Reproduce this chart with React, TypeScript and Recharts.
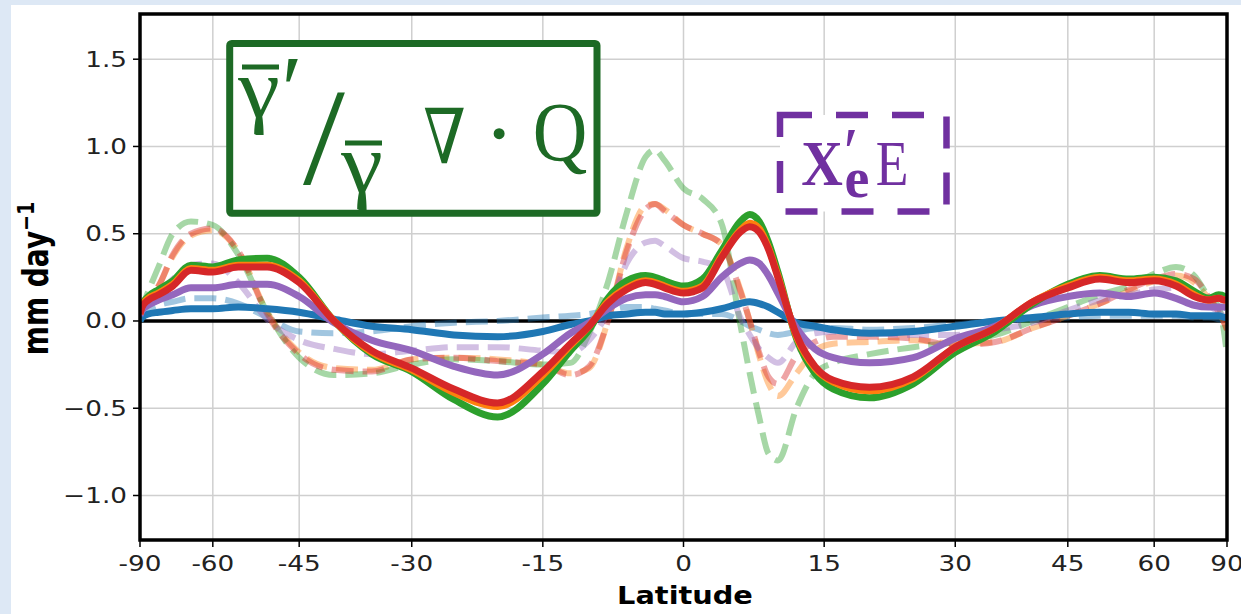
import React from "react";
import { LineChart, Line, XAxis, YAxis, CartesianGrid, ReferenceLine } from "recharts";

// Canvas and plot frame (pixels)
const W = 1241;
const H = 614;
const PLOT = { left: 140, top: 14, right: 1227, bottom: 540 };

// Latitude sample points (degrees)
const LAT = [-90, -85, -80, -75, -70, -65, -60, -55, -50, -45, -40, -35, -30, -25, -20, -15, -12, -10, -8, -6, -4, -3, -2, 0, 2, 4, 6, 7, 8, 9, 10, 12, 14, 16, 20, 25, 30, 35, 40, 45, 50, 55, 60, 65, 70, 75, 80, 85, 90];

// Solid series (mm day^-1)
const SOLID_BLUE = [0.00, 0.02, 0.04, 0.05, 0.06, 0.07, 0.07, 0.08, 0.07, 0.05, 0.01, -0.03, -0.05, -0.08, -0.09, -0.06, -0.02, 0.00, 0.03, 0.04, 0.05, 0.05, 0.04, 0.04, 0.05, 0.07, 0.10, 0.11, 0.10, 0.08, 0.05, -0.01, -0.03, -0.05, -0.07, -0.06, -0.03, 0.00, 0.02, 0.04, 0.05, 0.05, 0.04, 0.04, 0.03, 0.03, 0.03, 0.02, 0.02];
const SOLID_ORANGE = [0.04, 0.09, 0.13, 0.16, 0.21, 0.30, 0.29, 0.32, 0.32, 0.23, 0.00, -0.18, -0.28, -0.41, -0.49, -0.31, -0.14, -0.03, 0.11, 0.19, 0.23, 0.22, 0.20, 0.17, 0.20, 0.37, 0.52, 0.56, 0.53, 0.42, 0.26, -0.09, -0.27, -0.35, -0.40, -0.33, -0.15, -0.04, 0.11, 0.20, 0.25, 0.23, 0.24, 0.21, 0.15, 0.12, 0.13, 0.12, 0.12];
const SOLID_GREEN = [0.05, 0.09, 0.14, 0.18, 0.23, 0.32, 0.31, 0.35, 0.36, 0.25, 0.00, -0.19, -0.29, -0.45, -0.55, -0.36, -0.17, -0.05, 0.13, 0.23, 0.26, 0.25, 0.23, 0.20, 0.24, 0.40, 0.57, 0.61, 0.57, 0.45, 0.28, -0.10, -0.30, -0.39, -0.44, -0.36, -0.18, -0.06, 0.10, 0.21, 0.26, 0.24, 0.25, 0.23, 0.17, 0.13, 0.15, 0.14, 0.13];
const SOLID_RED = [0.04, 0.08, 0.12, 0.15, 0.20, 0.29, 0.28, 0.31, 0.31, 0.22, 0.00, -0.17, -0.27, -0.39, -0.47, -0.29, -0.13, -0.03, 0.10, 0.18, 0.22, 0.21, 0.19, 0.16, 0.19, 0.36, 0.51, 0.54, 0.51, 0.41, 0.25, -0.08, -0.26, -0.34, -0.38, -0.32, -0.15, -0.04, 0.11, 0.19, 0.24, 0.22, 0.23, 0.20, 0.14, 0.12, 0.13, 0.12, 0.12];
const SOLID_PURPLE = [0.03, 0.06, 0.09, 0.12, 0.15, 0.19, 0.19, 0.21, 0.21, 0.14, -0.01, -0.11, -0.17, -0.26, -0.31, -0.19, -0.07, -0.01, 0.07, 0.13, 0.15, 0.15, 0.14, 0.11, 0.14, 0.25, 0.33, 0.35, 0.33, 0.26, 0.16, -0.04, -0.16, -0.21, -0.24, -0.21, -0.10, -0.03, 0.09, 0.14, 0.16, 0.14, 0.16, 0.13, 0.09, 0.08, 0.08, 0.08, 0.07];

// Dashed series (mm day^-1)
const DASH_BLUE = [0.00, 0.03, 0.06, 0.09, 0.11, 0.13, 0.13, 0.10, 0.02, -0.06, -0.07, -0.06, -0.03, -0.01, 0.00, 0.02, 0.03, 0.04, 0.06, 0.08, 0.08, 0.07, 0.06, 0.04, 0.04, 0.04, 0.00, -0.03, -0.05, -0.07, -0.08, -0.06, -0.04, -0.04, -0.05, -0.04, -0.02, 0.00, 0.01, 0.02, 0.03, 0.03, 0.03, 0.03, 0.02, 0.02, 0.01, 0.00, -0.02];
const DASH_ORANGE = [0.05, 0.08, 0.13, 0.20, 0.37, 0.49, 0.52, 0.40, 0.05, -0.18, -0.27, -0.28, -0.22, -0.21, -0.22, -0.25, -0.30, -0.27, 0.00, 0.42, 0.66, 0.67, 0.64, 0.55, 0.50, 0.44, 0.18, 0.00, -0.20, -0.36, -0.43, -0.30, -0.17, -0.13, -0.12, -0.11, -0.13, -0.12, -0.04, 0.03, 0.10, 0.17, 0.23, 0.26, 0.22, 0.13, 0.05, -0.02, -0.05];
const DASH_GREEN = [0.05, 0.08, 0.17, 0.31, 0.50, 0.57, 0.55, 0.38, 0.05, -0.21, -0.31, -0.30, -0.25, -0.22, -0.23, -0.25, -0.24, -0.07, 0.22, 0.62, 0.94, 0.98, 0.92, 0.76, 0.70, 0.56, -0.02, -0.30, -0.55, -0.76, -0.80, -0.50, -0.30, -0.24, -0.19, -0.15, -0.12, -0.08, 0.00, 0.08, 0.15, 0.20, 0.27, 0.31, 0.26, 0.14, 0.08, -0.10, -0.20];
const DASH_RED = [0.05, 0.08, 0.13, 0.20, 0.38, 0.50, 0.53, 0.40, 0.04, -0.19, -0.28, -0.29, -0.22, -0.21, -0.23, -0.25, -0.31, -0.26, 0.00, 0.40, 0.64, 0.67, 0.63, 0.55, 0.50, 0.44, 0.17, 0.00, -0.18, -0.32, -0.36, -0.20, -0.12, -0.09, -0.09, -0.10, -0.14, -0.12, -0.04, 0.03, 0.10, 0.18, 0.24, 0.27, 0.24, 0.14, 0.05, -0.02, -0.05];
const DASH_PURPLE = [0.03, 0.06, 0.10, 0.16, 0.24, 0.32, 0.33, 0.22, 0.01, -0.11, -0.16, -0.19, -0.17, -0.15, -0.15, -0.17, -0.18, -0.11, 0.05, 0.33, 0.45, 0.46, 0.43, 0.36, 0.34, 0.30, 0.02, -0.08, -0.16, -0.21, -0.24, -0.12, -0.07, -0.06, -0.07, -0.08, -0.08, -0.05, -0.01, 0.06, 0.12, 0.15, 0.18, 0.19, 0.15, 0.09, 0.05, 0.02, 0.00];

// Axis ticks
const X_TICK_LATS = [-90, -60, -45, -30, -15, 0, 15, 30, 45, 60, 90];
const Y_TICKS = [-1.0, -0.5, 0.0, 0.5, 1.0, 1.5];
const Y_DOMAIN: [number, number] = [-1.255, 1.759];

const C = {
  blue: "#1f77b4",
  orange: "#ff7f0e",
  green: "#2ca02c",
  red: "#d62728",
  purple: "#9467bd",
};
const BOX_GREEN = "#1d6a25";
const BOX_PURPLE = "#7030a0";
const TICK_FONT = "'DejaVu Sans', sans-serif";
const MATH_FONT = "'Liberation Serif', 'DejaVu Serif', serif";

// sine-of-latitude coordinate used by the x axis (equal-area spacing)
const sinLat = (lat: number) => (lat === 90 ? 1 : lat === -90 ? -1 : Math.sin((lat * Math.PI) / 180));

const rows = LAT.map((lat, i) => ({
  lat,
  sb: SOLID_BLUE[i],
  so: SOLID_ORANGE[i],
  sg: SOLID_GREEN[i],
  sr: SOLID_RED[i],
  sp: SOLID_PURPLE[i],
  db: DASH_BLUE[i],
  do: DASH_ORANGE[i],
  dg: DASH_GREEN[i],
  dr: DASH_RED[i],
  dp: DASH_PURPLE[i],
}));

const xTickValues = X_TICK_LATS.map(sinLat);

const XTick = (props: any) => {
  const { x, y, payload } = props;
  const lat = Math.round((Math.asin(Math.max(-1, Math.min(1, payload.value))) * 180) / Math.PI);
  return (
    <g transform={`translate(${x},${y})`}>
      <text transform="scale(1.25,1)" textAnchor="middle" y={22} fontFamily={TICK_FONT} fontSize={21} fill="#222">
        {String(lat === 0 ? 0 : lat)}
      </text>
    </g>
  );
};

const YTick = (props: any) => {
  const { x, y, payload } = props;
  const label = Number(payload.value).toFixed(1).replace("-", "\u2212");
  return (
    <g transform={`translate(${x},${y})`}>
      <text transform="scale(1.25,1)" textAnchor="end" y={7.5} fontFamily={TICK_FONT} fontSize={21} fill="#222">
        {label === "\u22120.0" ? "0.0" : label}
      </text>
    </g>
  );
};

const solid = (key: string, color: string) => (
  <Line
    key={key}
    dataKey={key}
    type="monotoneX"
    stroke={color}
    strokeWidth={7}
    dot={false}
    activeDot={false}
    isAnimationActive={false}
    strokeLinejoin="round"
  />
);

const dashed = (key: string, color: string) => (
  <Line
    key={key}
    dataKey={key}
    type="monotoneX"
    stroke={color}
    strokeOpacity={0.42}
    strokeWidth={6}
    strokeDasharray="22 9"
    dot={false}
    activeDot={false}
    isAnimationActive={false}
  />
);

function Annotations() {
  return (
    <svg width={W} height={H} style={{ position: "absolute", left: 0, top: 0, pointerEvents: "none" }}>
      {/* plot frame */}
      <rect
        x={PLOT.left}
        y={PLOT.top}
        width={PLOT.right - PLOT.left}
        height={PLOT.bottom - PLOT.top}
        fill="none"
        stroke="#000"
        strokeWidth={3.5}
      />

      {/* y axis label */}
      <text
        transform="translate(48,278.5) scale(1.25,1) rotate(-90)"
        textAnchor="middle"
        fontFamily={TICK_FONT}
        fontWeight="bold"
        fontSize={28}
        fill="#000"
      >
        mm day
        <tspan dy={-11} fontSize={19}>{"\u22121"}</tspan>
      </text>

      {/* x axis label */}
      <text
        transform="translate(685,604) scale(1.2,1)"
        textAnchor="middle"
        fontFamily={TICK_FONT}
        fontWeight="bold"
        fontSize={24}
        fill="#000"
      >
        Latitude
      </text>

      {/* solid-box legend: gamma ratio times moisture convergence */}
      <rect x={229.7} y={43.5} width={367.3} height={169.8} rx={2} fill="#fff" stroke={BOX_GREEN} strokeWidth={7} strokeLinejoin="round" />
      <g fill={BOX_GREEN} fontFamily={MATH_FONT}>
        <text transform="translate(259,117) scale(1.12,1)" textAnchor="middle" fontSize={84}>γ</text>
        <line x1={242} x2={279} y1={67} y2={67} stroke={BOX_GREEN} strokeWidth={5} />
        <text transform="translate(292,122)" textAnchor="middle" fontSize={96}>′</text>
        <text transform="translate(324,184) scale(1.1,1)" textAnchor="middle" fontSize={137}>/</text>
        <text transform="translate(362,192) scale(1.12,1)" textAnchor="middle" fontSize={84}>γ</text>
        <line x1={345} x2={382} y1={143} y2={143} stroke={BOX_GREEN} strokeWidth={5} />
        <text transform="translate(444.5,163) scale(0.8,1)" textAnchor="middle" fontSize={76}>∇</text>
        <text transform="translate(499,163)" textAnchor="middle" fontSize={84}>⋅</text>
        <text transform="translate(560,161) scale(0.9,1)" textAnchor="middle" fontSize={84}>Q</text>
      </g>

      {/* dashed-box legend: evaporation term */}
      <rect x={780} y={115} width={166.5} height={96.5} fill="#fff" stroke={BOX_PURPLE} strokeWidth={6.5} strokeDasharray="32 24" />
      <g fill={BOX_PURPLE} fontFamily={MATH_FONT}>
        <text transform="translate(822,185) scale(0.9,1)" textAnchor="middle" fontSize={64} fontWeight="bold">X</text>
        <text transform="translate(851,174)" textAnchor="middle" fontSize={68}>′</text>
        <text transform="translate(857,197)" textAnchor="middle" fontSize={56} fontWeight="bold">e</text>
        <text transform="translate(892,185) scale(0.85,1)" textAnchor="middle" fontSize={63}>E</text>
      </g>
    </svg>
  );
}

export default function App() {
  return (
    <div style={{ position: "absolute", left: 0, top: 0, width: W, height: H, background: "#dde8f5", overflow: "hidden" }}>
      <div style={{ position: "absolute", left: 11, top: 5, right: 0, bottom: 0, background: "#ffffff" }} />
      <div style={{ position: "absolute", left: 0, top: 0 }}>
        <LineChart
          width={W}
          height={H}
          data={rows}
          margin={{ top: PLOT.top, right: W - PLOT.right, bottom: 0, left: 0 }}
        >
          <CartesianGrid stroke="#cfcfcf" strokeWidth={1.5} />
          <XAxis
            type="number"
            dataKey={(d: any) => sinLat(d.lat)}
            domain={[-1, 1]}
            ticks={xTickValues}
            interval={0}
            height={H - PLOT.bottom}
            tickSize={7}
            tickMargin={2}
            axisLine={false}
            tickLine={{ stroke: "#000", strokeWidth: 1.5 }}
            tick={<XTick />}
            allowDataOverflow
          />
          <YAxis
            type="number"
            domain={Y_DOMAIN}
            ticks={Y_TICKS}
            interval={0}
            width={PLOT.left}
            tickSize={7}
            tickMargin={6}
            axisLine={false}
            tickLine={{ stroke: "#000", strokeWidth: 1.5 }}
            tick={<YTick />}
            allowDataOverflow
          />
          <ReferenceLine y={0} stroke="#000" strokeWidth={3.5} />
          {dashed("db", C.blue)}
          {dashed("do", C.orange)}
          {dashed("dg", C.green)}
          {dashed("dr", C.red)}
          {dashed("dp", C.purple)}
          {solid("sb", C.blue)}
          {solid("sp", C.purple)}
          {solid("sg", C.green)}
          {solid("so", C.orange)}
          {solid("sr", C.red)}
        </LineChart>
      </div>
      <Annotations />
    </div>
  );
}
